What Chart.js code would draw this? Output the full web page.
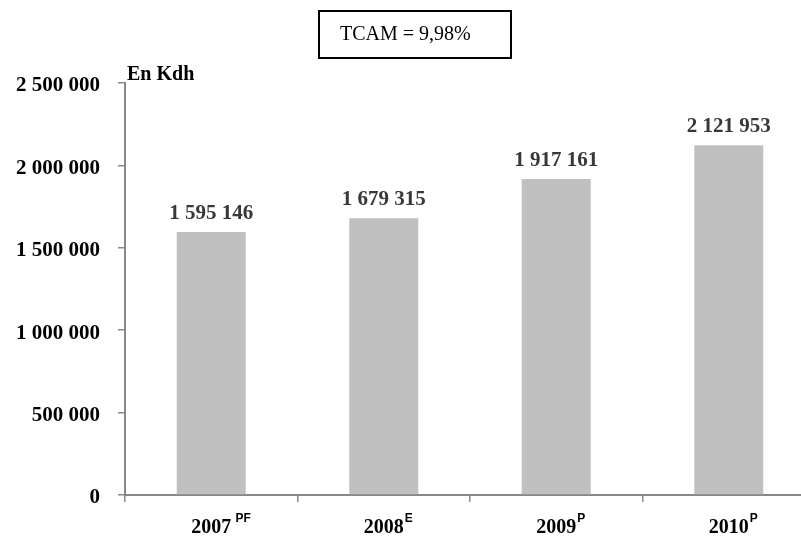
<!DOCTYPE html>
<html>
<head>
<meta charset="utf-8">
<script src="https://cdn.jsdelivr.net/npm/chart.js@4/dist/chart.umd.min.js"></script>
<style>
  html, body { margin: 0; padding: 0; overflow: hidden; background: #fff; width: 801px; height: 539px; }
  canvas { display: block; }
</style>
</head>
<body>
<canvas id="c" width="816" height="539"></canvas>
<script>
// Chiffre d'affaires par exercice (en milliers de dirhams)
const years = ['2007', '2008', '2009', '2010'];
const yearMarks = [' PF', 'E', 'P', 'P'];
const revenue = [1595146, 1679315, 1917161, 2121953];
const yMin = 0;
const yMax = 2500000;
const yStep = 500000;
const unitLabel = 'En Kdh';
const growthLabel = 'TCAM = 9,98%';

const SERIF = '"Liberation Serif", "Times New Roman", serif';
const SANS = '"Liberation Sans", Arial, sans-serif';

function fmt(v) {
  return String(v).replace(/\B(?=(\d{3})+(?!\d))/g, ' ');
}

const decorations = {
  id: 'decorations',
  afterDraw(chart) {
    const ctx = chart.ctx;
    const xs = chart.scales.x;
    const ys = chart.scales.y;
    ctx.save();

    // valeurs au-dessus des barres
    const meta = chart.getDatasetMeta(0);
    ctx.font = 'bold 21px ' + SERIF;
    ctx.fillStyle = '#383838';
    ctx.textAlign = 'center';
    ctx.textBaseline = 'alphabetic';
    meta.data.forEach((bar, i) => {
      ctx.fillText(fmt(revenue[i]), bar.x, bar.y - 13);
    });

    // exposants des années (PF, E, P)
    ctx.font = 'bold 20px ' + SERIF;
    const yearFont = ctx.font;
    years.forEach((y, i) => {
      ctx.font = yearFont;
      const w = ctx.measureText(y).width;
      const cx = xs.getPixelForValue(i);
      ctx.font = 'bold 12px ' + SANS;
      ctx.fillStyle = '#000';
      ctx.textAlign = 'left';
      ctx.fillText(yearMarks[i], cx + w / 2 + 1, 522);
    });

    // unité
    ctx.font = 'bold 20px ' + SERIF;
    ctx.fillStyle = '#000';
    ctx.textAlign = 'left';
    ctx.fillText(unitLabel, ys.right + 2, 80);

    // encadré TCAM
    ctx.strokeStyle = '#000';
    ctx.lineWidth = 2;
    ctx.strokeRect(319, 11, 192, 47);
    ctx.font = '20px ' + SERIF;
    ctx.fillText(growthLabel, 340, 40);

    ctx.restore();
  }
};

new Chart(document.getElementById('c'), {
  type: 'bar',
  data: {
    labels: years,
    datasets: [{
      data: revenue,
      backgroundColor: '#c0c0c0',
      borderWidth: 0,
      barPercentage: 0.4,
      categoryPercentage: 1
    }]
  },
  options: {
    responsive: false,
    animation: false,
    layout: { padding: { top: 83, right: 1, left: 0, bottom: 0 } },
    plugins: { legend: { display: false }, tooltip: { enabled: false } },
    scales: {
      x: {
        offset: true,
        afterFit(scale) { scale.height = 44; },
        border: { display: true, color: '#888', width: 2 },
        grid: { offset: true, drawOnChartArea: false, drawTicks: true, tickLength: 7, color: '#888', lineWidth: 1.5 },
        ticks: { color: '#000', padding: 14, font: { family: SERIF, size: 20, weight: 'bold' } }
      },
      y: {
        min: yMin,
        max: yMax,
        afterFit(scale) { scale.width = 125; },
        border: { display: true, color: '#888', width: 2 },
        grid: { drawOnChartArea: false, drawTicks: true, tickLength: 7, color: '#888', lineWidth: 1.5 },
        ticks: {
          stepSize: yStep,
          padding: 18,
          color: '#000',
          font: { family: SERIF, size: 21, weight: 'bold', lineHeight: '6px' },
          // une ligne vide devant le libellé le décale de quelques pixels vers le bas
          callback: (v) => ['', fmt(v)]
        }
      }
    }
  },
  plugins: [decorations]
});
</script>
</body>
</html>
